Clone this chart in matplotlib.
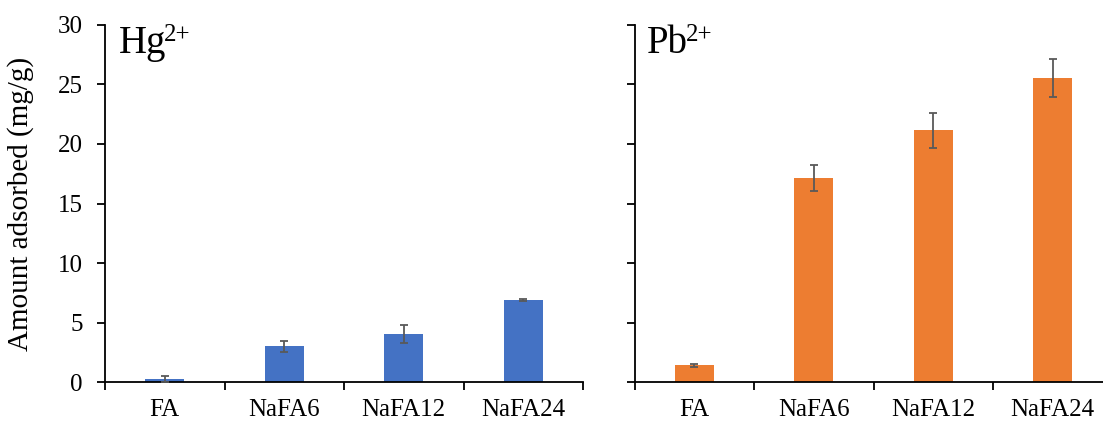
import matplotlib
matplotlib.use("Agg")
import matplotlib.pyplot as plt
import numpy as np

plt.rcParams['font.family'] = ['Liberation Serif', 'DejaVu Serif']

categories = ["FA", "NaFA6", "NaFA12", "NaFA24"]
hg_values = [0.27, 3.02, 4.07, 6.88]
hg_errors = [0.28, 0.45, 0.74, 0.08]
pb_values = [1.42, 17.13, 21.15, 25.55]
pb_errors = [0.12, 1.09, 1.48, 1.6]
yticks = [0, 5, 10, 15, 20, 25, 30]

fig = plt.figure(figsize=(11.03, 4.24), dpi=100)
W, H = 1103, 424
ax_w = 478 / W
bot = (H - 382.3) / H
hgt = 357.6 / H
ax1 = fig.add_axes([105 / W, bot, ax_w, hgt])
ax2 = fig.add_axes([634.5 / W, bot, ax_w, hgt])

x = np.arange(len(categories))
for ax, vals, errs, color, main, show, xoff in [
    (ax1, hg_values, hg_errors, '#4472C4', 'Hg', True, 14),
    (ax2, pb_values, pb_errors, '#ED7D31', 'Pb', False, 12),
]:
    ax.bar(x, vals, width=0.33, color=color, edgecolor='none', zorder=2)
    ax.errorbar(x, vals, yerr=errs, fmt='none', ecolor='#595959', elinewidth=1.3,
                capsize=3.2, capthick=1.3, zorder=3)
    ax.set_xlim(-0.5, 3.5)
    ax.set_ylim(0, 30)
    ax.set_yticks(yticks)
    if show:
        ax.set_yticklabels([str(t) for t in yticks], fontsize=18)
        ax.set_ylabel("Amount adsorbed (mg/g)", fontsize=21)
        ax.yaxis.set_label_coords(-0.148, 0.5)
    else:
        ax.set_yticklabels([])
    ax.set_xticks(x)
    ax.set_xticklabels(categories, fontsize=18)
    ax.set_xticks(np.arange(-0.5, 3.6, 1.0), minor=True)
    ax.tick_params(axis='x', which='major', length=0, pad=12)
    ax.tick_params(axis='x', which='minor', length=6, width=1.3, direction='out')
    ax.tick_params(axis='y', length=6, width=1.3, direction='out', pad=10)
    for s in ['top', 'right']:
        ax.spines[s].set_visible(False)
    for s in ['left', 'bottom']:
        ax.spines[s].set_linewidth(1.3)
    tx = -0.5 + xoff / 119.5
    t = ax.text(tx, 27.6, main, fontsize=28, va='baseline', ha='left')
    ax.annotate("2+", xy=(1, 28.6), xycoords=(t, 'data'),
                xytext=(-1.5, 0), textcoords='offset points',
                fontsize=18, va='baseline', ha='left')

fig.savefig("out.png", dpi=100)
